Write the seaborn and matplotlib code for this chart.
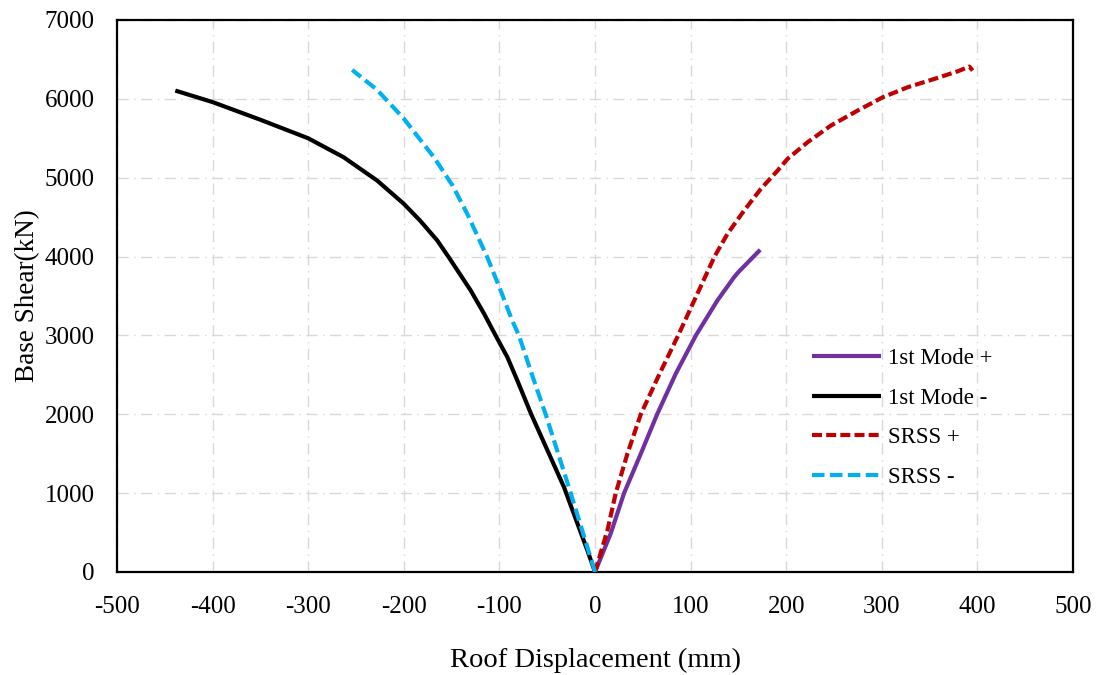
import matplotlib
matplotlib.use("Agg")
import matplotlib.pyplot as plt
import seaborn as sns
import pandas as pd

# ---- data ----
mode1_pos_x = [0, 16.4, 30.4, 47.9, 65, 84.5, 105.5, 128, 145.5, 150.3, 172.8]
mode1_pos_y = [0, 487, 1000, 1500, 2000, 2515, 3000, 3443, 3739, 3807, 4086]

mode1_neg_x = [0, -8, -32.5, -67, -81.3, -91.7, -104, -116, -130, -153, -165, -182.5,
               -200, -228, -263, -300, -350, -400, -439]
mode1_neg_y = [0, 275, 1078, 2008, 2430, 2725, 3000, 3275, 3570, 3992, 4204, 4450,
               4669, 4965, 5260, 5500, 5735, 5959, 6105]

srss_pos_x = [0, 13, 21.7, 33.9, 47.9, 67, 87, 106, 125, 138.6, 156, 173.5, 191,
              201.5, 222.4, 246.8, 274.8, 301, 327, 355, 379.5, 391.6, 395]
srss_pos_y = [0, 528, 1000, 1500, 2000, 2500, 3000, 3500, 4000, 4289, 4584, 4859, 5091,
              5240, 5450, 5662, 5852, 6020, 6147, 6253, 6350, 6409, 6359]

srss_neg_x = [0, -25.4, -51.6, -63.9, -79.6, -87, -98.7, -112.7, -133.6, -149, -168.5,
              -184, -200, -228, -254]
srss_neg_y = [0, 1000, 2000, 2430, 3000, 3200, 3570, 3992, 4542, 4901, 5260,
              5500, 5750, 6115, 6367]

labels = ["1st Mode +", "1st Mode -", "SRSS +", "SRSS -"]
x_ticks = list(range(-500, 501, 100))
y_ticks = list(range(0, 7001, 1000))

sns.set_style("white")
plt.rcParams["font.family"] = ["Liberation Serif", "DejaVu Serif"]

fig = plt.figure(figsize=(11.02, 6.75), dpi=100)
ax = fig.add_axes([117/1102, 1 - 572/675, 956/1102, 552/675])

series = [
    (mode1_pos_x, mode1_pos_y, "#7030A0", None),
    (mode1_neg_x, mode1_neg_y, "#000000", None),
    (srss_pos_x, srss_pos_y, "#C00000", (2.4, 1.0)),
    (srss_neg_x, srss_neg_y, "#00B0F0", (3.0, 1.3)),
]
handles = []
for (xs, ys, col, dash), lab in zip(series, labels):
    df = pd.DataFrame({"x": xs, "y": ys})
    sns.lineplot(data=df, x="x", y="y", sort=False, estimator=None, ax=ax,
                 color=col, linewidth=3.0, label=lab)
    ln = ax.get_lines()[-1]
    if dash is not None:
        ln.set_dashes(dash)
    ln.set_solid_capstyle("butt")
    ln.set_solid_joinstyle("round")
    ln.set_dash_joinstyle("round")
    ln.set_zorder(3)
    handles.append(ln)

ax.set_xlim(-500, 500)
ax.set_ylim(0, 7000)
ax.set_xticks(x_ticks)
ax.set_yticks(y_ticks)
ax.set_xticklabels([str(v) for v in x_ticks])
ax.set_yticklabels([str(v) for v in y_ticks])

ax.grid(True, color="#D9D9D9", linewidth=1.0, dashes=(8, 4, 1, 4))
ax.set_axisbelow(True)

for sp in ax.spines.values():
    sp.set_visible(True)
    sp.set_color("#000000")
    sp.set_linewidth(1.6)

ax.tick_params(axis="both", length=0, labelsize=18, colors="#000000")
ax.tick_params(axis="x", pad=17)
ax.tick_params(axis="y", pad=16)

ax.set_xlabel("Roof Displacement (mm)", fontsize=20.5, labelpad=22, color="#000000")
ax.set_ylabel("Base Shear(kN)", fontsize=19.5, labelpad=3, color="#000000")

leg = ax.legend(handles=handles, labels=labels, loc="upper left",
                bbox_to_anchor=(0.727, 0.405), frameon=False, fontsize=16.5,
                handlelength=3.0, handletextpad=0.3, labelspacing=0.8,
                borderpad=0, borderaxespad=0)
for t in leg.get_texts():
    t.set_color("#000000")

fig.savefig("out.png", dpi=100)
